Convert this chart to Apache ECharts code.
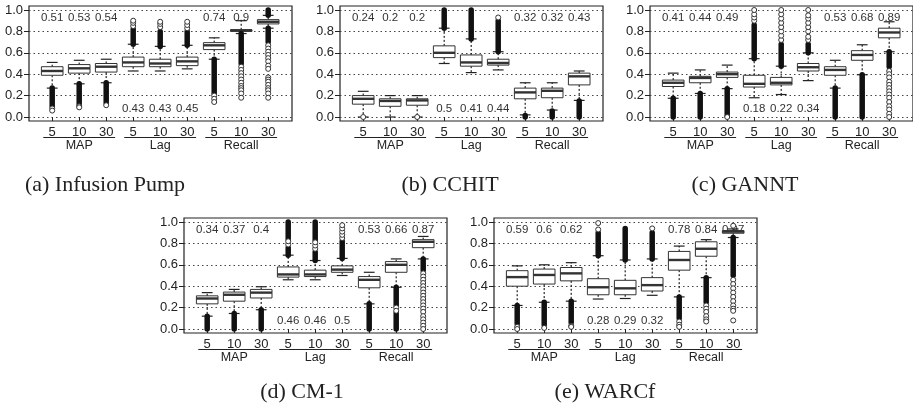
<!DOCTYPE html>
<html>
<head>
<meta charset="utf-8">
<script src="https://cdn.jsdelivr.net/npm/echarts@6/dist/echarts.min.js"></script>
<style>
  html, body { margin: 0; background: #fff; }
  #chart { width: 913px; height: 410px; }
</style>
</head>
<body>
<div id="chart"></div>
<script>
// x categories (k = 5, 10, 30 within each metric)
var categories = ['5', '10', '30', '5', '10', '30', '5', '10', '30'];
var groups = ['MAP', 'Lag', 'Recall'];
// height at which the per-box number is written (MAP/Recall above, Lag below)
var labelLevel = [0.93, 0.93, 0.93, 0.08, 0.08, 0.08, 0.93, 0.93, 0.93];

// ---- (a) Infusion Pump ----
// box = [lower whisker, Q1, median, Q3, upper whisker]
var boxA = [
  [0.27, 0.39, 0.43, 0.47, 0.51],
  [0.31, 0.41, 0.455, 0.49, 0.53],
  [0.32, 0.42, 0.47, 0.50, 0.54],
  [0.43, 0.47, 0.51, 0.56, 0.68],
  [0.43, 0.47, 0.50, 0.54, 0.66],
  [0.45, 0.48, 0.52, 0.56, 0.67],
  [0.54, 0.63, 0.67, 0.695, 0.74],
  [0.78, 0.80, 0.81, 0.815, 0.90],
  [0.83, 0.87, 0.89, 0.91, 0.95]
];
// dense runs of outliers = [box, from, to]
var denseA = [[0, 0.27, 0.10], [1, 0.31, 0.12], [2, 0.32, 0.13], [3, 0.68, 0.82], [4, 0.66, 0.80],
  [5, 0.67, 0.80], [6, 0.54, 0.22], [7, 0.78, 0.50], [8, 0.83, 0.70], [8, 0.95, 1.0]];
var sparseA = [[0, 0.08], [0, 0.06], [1, 0.10], [1, 0.09], [2, 0.11], [3, 0.85], [3, 0.88], [3, 0.90],
  [4, 0.84], [4, 0.87], [4, 0.89], [5, 0.83], [5, 0.86], [5, 0.89], [6, 0.20], [6, 0.17], [6, 0.14],
  [7, 0.47], [7, 0.44], [7, 0.41], [7, 0.38], [7, 0.35], [7, 0.32], [7, 0.29], [7, 0.27], [7, 0.25], [7, 0.22], [7, 0.18],
  [8, 0.67], [8, 0.64], [8, 0.61], [8, 0.58], [8, 0.55], [8, 0.52], [8, 0.48], [8, 0.45], [8, 0.37],
  [8, 0.35], [8, 0.33], [8, 0.30], [8, 0.27], [8, 0.25], [8, 0.22], [8, 0.18]];
var meansA = ['0.51', '0.53', '0.54', '0.43', '0.43', '0.45', '0.74', '0.9', ''];

// ---- (b) CCHIT ----
var boxB = [
  [0.0, 0.12, 0.17, 0.20, 0.24],
  [0.0, 0.10, 0.15, 0.17, 0.20],
  [0.0, 0.11, 0.155, 0.17, 0.20],
  [0.50, 0.555, 0.60, 0.665, 0.83],
  [0.415, 0.475, 0.51, 0.58, 0.73],
  [0.44, 0.485, 0.505, 0.54, 0.61],
  [0.02, 0.17, 0.23, 0.27, 0.32],
  [0.065, 0.18, 0.245, 0.27, 0.32],
  [0.155, 0.30, 0.38, 0.41, 0.43]
];
var denseB = [[3, 0.83, 1.0], [4, 0.73, 1.0], [5, 0.61, 0.90], [6, 0.015, 0.0], [7, 0.055, 0.0], [8, 0.15, 0.0]];
var sparseB = [[0, 0.0], [2, 0.0], [5, 0.93]];
var meansB = ['0.24', '0.2', '0.2', '0.5', '0.41', '0.44', '0.32', '0.32', '0.43'];

// ---- (c) GANNT ----
var boxC = [
  [0.175, 0.285, 0.32, 0.345, 0.41],
  [0.22, 0.32, 0.365, 0.38, 0.44],
  [0.265, 0.37, 0.40, 0.42, 0.485],
  [0.18, 0.28, 0.31, 0.39, 0.545],
  [0.21, 0.30, 0.32, 0.37, 0.475],
  [0.34, 0.43, 0.465, 0.50, 0.60],
  [0.27, 0.39, 0.44, 0.47, 0.53],
  [0.395, 0.53, 0.58, 0.62, 0.675],
  [0.61, 0.74, 0.79, 0.83, 0.89]
];
var denseC = [[0, 0.175, 0.0], [1, 0.22, 0.0], [2, 0.265, 0.01], [3, 0.545, 0.86], [4, 0.475, 0.68],
  [5, 0.60, 0.68], [6, 0.27, 0.0], [7, 0.395, 0.0], [8, 0.61, 0.47]];
var sparseC = [[2, 0.0], [3, 0.90], [3, 0.93], [3, 0.96], [3, 1.0],
  [4, 0.72], [4, 0.76], [4, 0.80], [4, 0.84], [4, 0.88], [4, 0.92], [4, 0.96], [4, 1.0],
  [5, 0.72], [5, 0.75], [5, 0.80], [5, 0.84], [5, 0.88], [5, 0.92], [5, 0.95], [5, 1.0],
  [8, 0.43], [8, 0.40], [8, 0.37], [8, 0.33], [8, 0.30], [8, 0.27], [8, 0.24], [8, 0.21], [8, 0.18],
  [8, 0.14], [8, 0.10], [8, 0.07], [8, 0.03], [8, 0.0]];
var meansC = ['0.41', '0.44', '0.49', '0.18', '0.22', '0.34', '0.53', '0.68', '0.89'];

// ---- (d) CM-1 ----
var boxD = [
  [0.12, 0.235, 0.285, 0.31, 0.34],
  [0.145, 0.26, 0.32, 0.345, 0.37],
  [0.18, 0.29, 0.34, 0.37, 0.395],
  [0.46, 0.485, 0.51, 0.58, 0.69],
  [0.46, 0.49, 0.51, 0.55, 0.64],
  [0.50, 0.53, 0.555, 0.59, 0.66],
  [0.235, 0.385, 0.46, 0.49, 0.53],
  [0.39, 0.53, 0.60, 0.63, 0.655],
  [0.655, 0.76, 0.815, 0.835, 0.865]
];
var denseD = [[0, 0.12, 0.0], [1, 0.145, 0.0], [2, 0.18, 0.0], [3, 0.69, 0.76], [3, 0.84, 1.0],
  [4, 0.64, 0.72], [4, 0.83, 1.0], [5, 0.66, 0.82], [6, 0.235, 0.0], [7, 0.39, 0.22], [7, 0.15, 0.0], [8, 0.655, 0.55]];
var sparseD = [[3, 0.79], [3, 0.82], [4, 0.75], [4, 0.78], [4, 0.81], [5, 0.85], [5, 0.88], [5, 0.91],
  [5, 0.94], [5, 0.97], [7, 0.20], [7, 0.17],
  [8, 0.52], [8, 0.49], [8, 0.46], [8, 0.43], [8, 0.40], [8, 0.37], [8, 0.34], [8, 0.31], [8, 0.28],
  [8, 0.25], [8, 0.22], [8, 0.19], [8, 0.16], [8, 0.12], [8, 0.09], [8, 0.06], [8, 0.03], [8, 0.0]];
var meansD = ['0.34', '0.37', '0.4', '0.46', '0.46', '0.5', '0.53', '0.66', '0.87'];

// ---- (e) WARCf ----
var boxE = [
  [0.22, 0.40, 0.485, 0.545, 0.59],
  [0.25, 0.42, 0.505, 0.56, 0.60],
  [0.26, 0.45, 0.52, 0.575, 0.62],
  [0.28, 0.32, 0.39, 0.47, 0.685],
  [0.285, 0.32, 0.38, 0.455, 0.645],
  [0.315, 0.355, 0.41, 0.48, 0.655],
  [0.30, 0.55, 0.645, 0.725, 0.775],
  [0.48, 0.68, 0.75, 0.815, 0.835],
  [0.855, 0.895, 0.91, 0.92, 0.935]
];
var denseE = [[0, 0.22, 0.05], [1, 0.25, 0.04], [2, 0.26, 0.06], [3, 0.685, 0.90], [4, 0.645, 0.94],
  [5, 0.655, 0.90], [6, 0.30, 0.10], [7, 0.48, 0.25], [8, 0.855, 0.50]];
var sparseE = [[0, 0.02], [0, 0.0], [1, 0.01], [2, 0.03], [2, 0.02], [3, 0.93], [3, 0.99], [5, 0.94],
  [6, 0.07], [6, 0.04], [6, 0.02], [7, 0.22], [7, 0.19], [7, 0.16], [7, 0.12], [7, 0.09], [7, 0.07],
  [8, 0.965], [8, 0.46], [8, 0.42], [8, 0.38], [8, 0.34], [8, 0.30], [8, 0.26], [8, 0.22], [8, 0.19], [8, 0.17], [8, 0.08]];
var meansE = ['0.59', '0.6', '0.62', '0.28', '0.29', '0.32', '0.78', '0.84', '0.97'];

// frame left/top of each panel, and caption centre
var panels = [
  { caption: '(a) Infusion Pump', box: boxA, dense: denseA, sparse: sparseA, means: meansA, left: 29, top: 6, cx: 105, cy: 185 },
  { caption: '(b) CCHIT', box: boxB, dense: denseB, sparse: sparseB, means: meansB, left: 340, top: 6, cx: 450, cy: 185 },
  { caption: '(c) GANNT', box: boxC, dense: denseC, sparse: sparseC, means: meansC, left: 650, top: 6, cx: 745, cy: 185 },
  { caption: '(d) CM-1', box: boxD, dense: denseD, sparse: sparseD, means: meansD, left: 184, top: 218, cx: 302, cy: 392 },
  { caption: '(e) WARCf', box: boxE, dense: denseE, sparse: sparseE, means: meansE, left: 494, top: 218, cx: 605, cy: 392 }
];

var FRAME_W = 263, FRAME_H = 115, BAND = 27;
var ink = '#222';
var sans = '"Liberation Sans", Arial, sans-serif';

var grid = [], xAxis = [], yAxis = [], series = [], graphic = [];

function renderBox(params, api) {
  var i = api.value(0);
  var lo = api.coord([i, api.value(1)]);
  var q1 = api.coord([i, api.value(2)]);
  var md = api.coord([i, api.value(3)]);
  var q3 = api.coord([i, api.value(4)]);
  var hi = api.coord([i, api.value(5)]);
  var bw = api.size([1, 0])[0] * 0.8, cw = bw * 0.5, x = lo[0];
  var dash = { stroke: ink, lineWidth: 1.2, lineDash: [2, 2] };
  var solid = { stroke: ink, lineWidth: 1.2 };
  return { type: 'group', children: [
    { type: 'line', shape: { x1: x, y1: q3[1], x2: x, y2: hi[1] }, style: dash },
    { type: 'line', shape: { x1: x, y1: q1[1], x2: x, y2: lo[1] }, style: dash },
    { type: 'line', shape: { x1: x - cw / 2, y1: hi[1], x2: x + cw / 2, y2: hi[1] }, style: solid },
    { type: 'line', shape: { x1: x - cw / 2, y1: lo[1], x2: x + cw / 2, y2: lo[1] }, style: solid },
    { type: 'rect', shape: { x: x - bw / 2, y: q3[1], width: bw, height: q1[1] - q3[1] },
      style: { fill: '#fff', stroke: '#333', lineWidth: 1 } },
    { type: 'line', shape: { x1: x - bw / 2, y1: md[1], x2: x + bw / 2, y2: md[1] },
      style: { stroke: '#333', lineWidth: 2.4 } }
  ] };
}

function renderDense(params, api) {
  var a = api.coord([api.value(0), api.value(1)]);
  var b = api.coord([api.value(0), api.value(2)]);
  return { type: 'line', shape: { x1: a[0], y1: a[1], x2: b[0], y2: b[1] },
    style: { stroke: '#111', lineWidth: 5.5, lineCap: 'round' } };
}

panels.forEach(function (p, k) {
  var gF = k * 3, gY = k * 3 + 1, gD = k * 3 + 2;
  var dataTop = p.top + 4, dataH = FRAME_H - 8;
  // frame
  grid.push({ left: p.left, top: p.top, width: FRAME_W, height: FRAME_H, show: true,
    borderColor: ink, borderWidth: 1.2, backgroundColor: 'transparent' });
  xAxis.push({ gridIndex: gF, type: 'value', show: false });
  yAxis.push({ gridIndex: gF, type: 'value', show: false });
  // y scale with dotted grid lines
  grid.push({ left: p.left, top: dataTop, width: FRAME_W, height: dataH });
  xAxis.push({ gridIndex: gY, type: 'value', show: false, min: 0, max: 1 });
  yAxis.push({ gridIndex: gY, type: 'value', min: 0, max: 1, interval: 0.2,
    axisLine: { show: false },
    axisTick: { show: true, length: 5, lineStyle: { color: ink, width: 1 } },
    axisLabel: { fontSize: 13, color: ink, fontFamily: sans, margin: 6,
      formatter: function (v) { return v.toFixed(1); } },
    splitLine: { show: true, lineStyle: { type: [1.5, 3], color: '#444', width: 1 } } });
  // data grid, one band per box
  var dLeft = p.left + 23.2 - BAND / 2;
  grid.push({ left: dLeft, top: dataTop, width: BAND * 9, height: dataH });
  xAxis.push({ gridIndex: gD, type: 'category', data: categories, boundaryGap: true, offset: 4,
    axisLine: { show: false },
    axisTick: { show: true, alignWithLabel: true, length: 4, lineStyle: { color: ink, width: 1 } },
    axisLabel: { fontSize: 13, color: ink, fontFamily: sans, margin: 5, interval: 0 } });
  yAxis.push({ gridIndex: gD, type: 'value', min: 0, max: 1, show: false });

  var labels = [];
  p.means.forEach(function (t, i) { if (t) labels.push({ i: i, v: labelLevel[i], t: t }); });
  series.push({
    type: 'custom', xAxisIndex: gD, yAxisIndex: gD, z: 1, silent: true,
    data: labels.map(function (d) { return [d.i, d.v]; }),
    renderItem: function (params, api) {
      var c = api.coord([api.value(0), api.value(1)]);
      return { type: 'text', style: { text: labels[params.dataIndex].t, x: c[0], y: c[1],
        textAlign: 'center', textVerticalAlign: 'middle', fill: '#333', font: '11.5px ' + sans } };
    }
  });
  series.push({
    type: 'custom', xAxisIndex: gD, yAxisIndex: gD, z: 3, silent: true,
    encode: { x: 0, y: [1, 2, 3, 4, 5] },
    data: p.box.map(function (b, i) { return [i].concat(b); }),
    renderItem: renderBox
  });
  series.push({
    type: 'custom', xAxisIndex: gD, yAxisIndex: gD, z: 4, silent: true,
    encode: { x: 0, y: [1, 2] },
    data: p.dense, renderItem: renderDense
  });
  series.push({
    type: 'scatter', xAxisIndex: gD, yAxisIndex: gD, z: 5, silent: true,
    symbol: 'circle', symbolSize: 5,
    itemStyle: { color: '#fff', borderColor: '#333', borderWidth: 1, opacity: 1 },
    data: p.sparse
  });
  // metric names under the k labels
  series.push({
    type: 'custom', xAxisIndex: gD, yAxisIndex: gD, z: 2, silent: true,
    data: groups.map(function (g, j) { return [j * 3, 0]; }),
    renderItem: function (params, api) {
      var a = api.coord([api.value(0), 0]);
      var b = api.coord([api.value(0) + 2, 0]);
      var half = api.size([1, 0])[0] * 0.33;
      var y = a[1] + 20.5;
      return { type: 'group', children: [
        { type: 'line', shape: { x1: a[0] - half, y1: y, x2: b[0] + half, y2: y },
          style: { stroke: ink, lineWidth: 1 } },
        { type: 'text', style: { text: groups[params.dataIndex], x: (a[0] + b[0]) / 2, y: y + 8.5,
          textAlign: 'center', textVerticalAlign: 'middle', fill: ink, font: '12.5px ' + sans } }
      ] };
    }
  });
  graphic.push({ type: 'text', x: p.cx, y: p.cy,
    style: { text: p.caption, textAlign: 'center', textVerticalAlign: 'middle', fill: '#222',
      font: '22px "Liberation Serif", "Times New Roman", serif' } });
});

var chart = echarts.init(document.getElementById('chart'), null, { renderer: 'canvas' });
chart.setOption({
  animation: false,
  backgroundColor: '#fff',
  grid: grid,
  xAxis: xAxis,
  yAxis: yAxis,
  series: series,
  graphic: graphic
});
</script>
</body>
</html>
